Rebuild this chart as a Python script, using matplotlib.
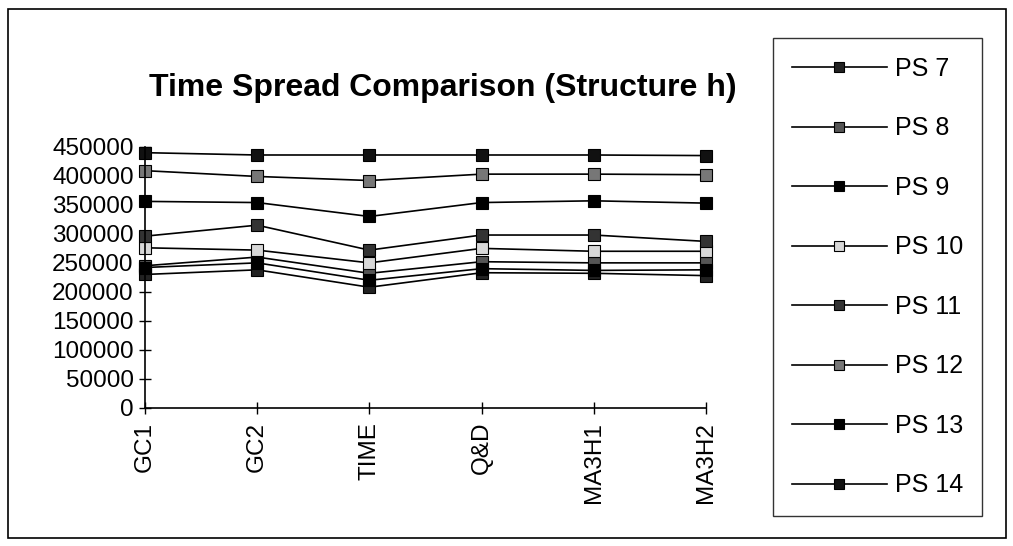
from matplotlib import pyplot as plt
from matplotlib.patches import Rectangle
import numpy as np

plt.rcParams['font.family'] = ['Liberation Sans', 'DejaVu Sans']

# 方法名 (x 轴)
methods = ['GC1', 'GC2', 'TIME', 'Q&D', 'MA3H1', 'MA3H2']

# 每条曲线的数值 (从图上读出来的)
ps7 = [230000, 238000, 208000, 233000, 232000, 228000]
ps8 = [245000, 260000, 232000, 252000, 250000, 250000]
ps9 = [242000, 250000, 220000, 240000, 237000, 238000]
ps10 = [276000, 272000, 250000, 275000, 270000, 270000]
ps11 = [296000, 315000, 272000, 298000, 298000, 287000]
ps12 = [409000, 399000, 392000, 403000, 403000, 402000]
ps13 = [356000, 354000, 330000, 354000, 357000, 353000]
ps14 = [440000, 436000, 436000, 436000, 436000, 435000]

labels = ['PS 7', 'PS 8', 'PS 9', 'PS 10', 'PS 11', 'PS 12', 'PS 13', 'PS 14']
series = [ps7, ps8, ps9, ps10, ps11, ps12, ps13, ps14]
faces = ['#222222', '#555555', '#000000', '#d8d8d8', '#333333', '#777777', '#000000', '#111111']

yticks = [0, 50000, 100000, 150000, 200000, 250000, 300000, 350000, 400000, 450000]

fig = plt.figure(figsize=(10.13, 5.46), dpi=100)
ax = fig.add_axes([0.143, 0.253, 0.554, 0.478])

x = np.arange(len(methods))
handles = []
for vals, lab, fc in zip(series, labels, faces):
    h, = ax.plot(x, vals, color='black', lw=1.2, marker='s', markersize=8,
                 markerfacecolor=fc, markeredgecolor='black', markeredgewidth=0.8,
                 label=lab, clip_on=False)
    handles.append(h)

ax.set_xlim(0, len(methods) - 1)
ax.set_ylim(0, 450000)
ax.set_yticks(yticks)
ax.set_yticklabels([str(v) for v in yticks], fontsize=17.5)
ax.set_xticks(x)
ax.set_xticklabels(methods, rotation=90, fontsize=17.5)
ax.tick_params(direction='inout', length=8, width=1)
ax.tick_params(axis='y', pad=4)
ax.tick_params(axis='x', pad=6)
ax.spines['top'].set_visible(False)
ax.spines['right'].set_visible(False)
ax.spines['left'].set_linewidth(1.2)
ax.spines['bottom'].set_linewidth(1.2)

fig.text(0.437, 0.839, 'Time Spread Comparison (Structure h)', ha='center', va='center',
         fontsize=23, fontweight='bold')

leg = ax.legend(handles=handles, loc='upper left', bbox_to_anchor=(0.763, 0.93),
                bbox_transform=fig.transFigure, fontsize=18, handlelength=3.8,
                handletextpad=0.35, labelspacing=1.42, borderpad=0.75, markerscale=0.9,
                frameon=True, fancybox=False, borderaxespad=0)
leg.get_frame().set_edgecolor('black')
leg.get_frame().set_linewidth(1.0)

# 外框
fig.patches.append(Rectangle((0.008, 0.015), 0.985, 0.968, transform=fig.transFigure,
                             fill=False, edgecolor='black', lw=1.2))

plt.savefig('out.png', dpi=100)
